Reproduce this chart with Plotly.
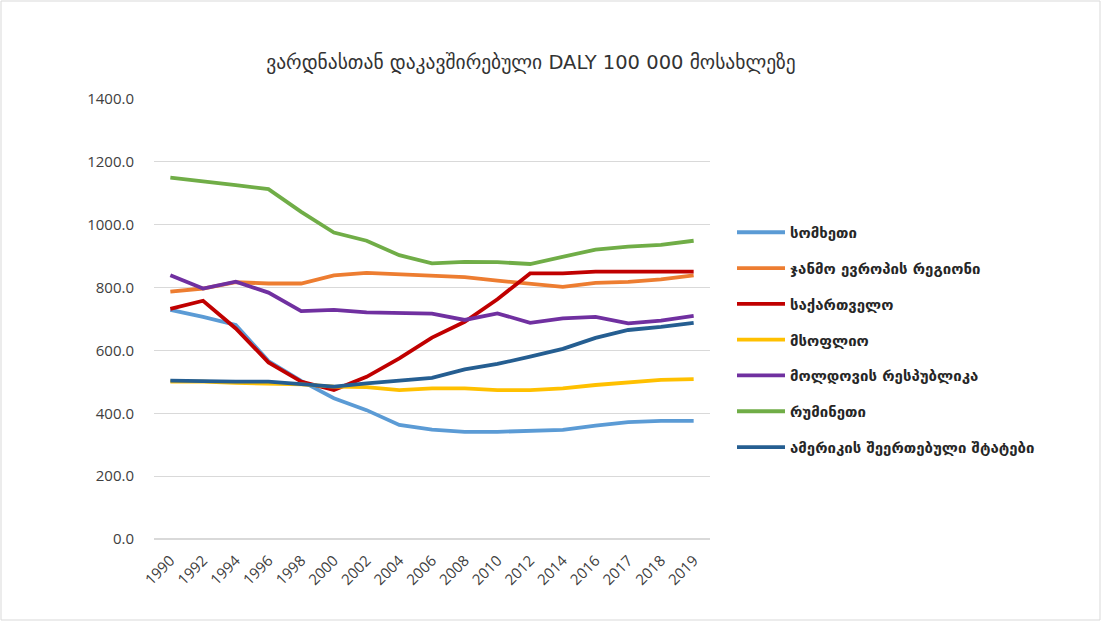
import plotly.graph_objects as go

years = ["1990", "1992", "1994", "1996", "1998", "2000", "2002", "2004", "2006",
         "2008", "2010", "2012", "2014", "2016", "2017", "2018", "2019"]

armenia = [729, 707, 681, 566, 503, 448, 410, 363, 348, 341, 341, 345, 347, 361, 372, 376, 376]
europe = [787, 797, 817, 813, 813, 839, 847, 843, 839, 833, 822, 811, 802, 815, 818, 826, 839]
georgia = [732, 758, 670, 562, 501, 474, 516, 575, 641, 691, 763, 845, 845, 851, 851, 851, 851]
world = [501, 501, 497, 495, 492, 485, 483, 474, 479, 479, 474, 474, 479, 490, 499, 506, 509]
moldova = [839, 797, 819, 784, 725, 729, 721, 718, 717, 697, 718, 688, 702, 707, 686, 695, 710]
romania = [1150, 1139, 1126, 1113, 1041, 975, 949, 903, 877, 882, 881, 875, 898, 921, 930, 936, 949]
usa = [504, 501, 501, 501, 493, 485, 495, 504, 513, 540, 557, 580, 605, 640, 665, 675, 688]

names = ["სომხეთი", "ჯანმო ევროპის რეგიონი", "საქართველო", "მსოფლიო",
         "მოლდოვის რესპუბლიკა", "რუმინეთი", "ამერიკის შეერთებული შტატები"]
series = [armenia, europe, georgia, world, moldova, romania, usa]
colors = ["#5B9BD5", "#ED7D31", "#C00000", "#FFC000", "#7030A0", "#70AD47", "#255E91"]

fig = go.Figure()
for i, (nm, vals, col) in enumerate(zip(names, series, colors)):
    fig.add_trace(go.Scatter(
        x=years, y=vals, mode="lines", name="<b>" + nm + "</b>",
        line=dict(color=col, width=3.8), legendgroup=str(i)))

L, R, T, B = 154, 393, 99, 84
W, H = 1103, 623
pw, ph = W - L - R, H - T - B

fig.update_layout(
    width=W, height=H,
    margin=dict(l=L, r=R, t=T, b=B, autoexpand=False),
    paper_bgcolor="white", plot_bgcolor="white",
    title=dict(text="ვარდნასთან დაკავშირებული DALY 100 000 მოსახლეზე",
               x=531 / W, xref="container", xanchor="center",
               y=1 - 62 / H, yanchor="middle",
               font=dict(family="DejaVu Sans", size=19.5, color="#333333")),
    xaxis=dict(type="category", range=[-0.5, 16.5], showgrid=False, showline=False,
               ticks="", tickangle=-45, ticklabelstandoff=9,
               tickfont=dict(family="Open Sans", size=15, color="#404040")),
    yaxis=dict(range=[0, 1400], dtick=200, tickformat=".1f", showgrid=True,
               gridcolor="#D9D9D9", gridwidth=1, zeroline=True, zerolinecolor="#D9D9D9",
               showline=False, ticks="", ticklabelstandoff=19,
               tickfont=dict(family="Open Sans", size=15, color="#404040")),
    legend=dict(x=(732 - L) / pw, xanchor="left", y=(539 - 216) / ph, yanchor="top",
                font=dict(family="DejaVu Sans", size=15, color="#262626"),
                tracegroupgap=13.3, itemwidth=48, bgcolor="rgba(0,0,0,0)"),
    showlegend=True,
)

fig.add_shape(type="rect", xref="paper", yref="paper",
              x0=(1 - L) / pw, x1=(W - 3 - L) / pw,
              y0=(H - B - (H - 3)) / ph, y1=(H - B - 1) / ph,
              line=dict(color="#D9D9D9", width=1), fillcolor="rgba(0,0,0,0)", layer="below")

fig.write_html("out.html", config={"displayModeBar": False},
               post_script="document.body.style.margin='0';document.body.style.overflow='hidden';")
